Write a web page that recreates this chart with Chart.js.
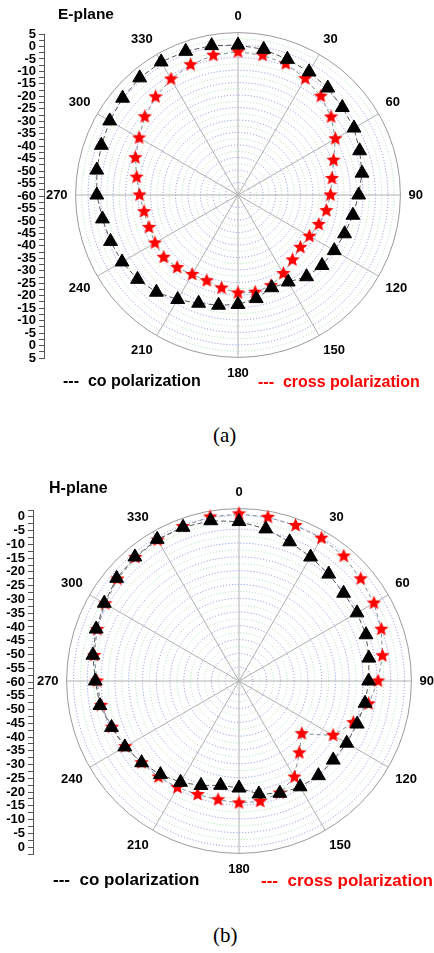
<!DOCTYPE html>
<html>
<head>
<meta charset="utf-8">
<script src="https://cdn.jsdelivr.net/npm/chart.js@4.4.0/dist/chart.umd.min.js"></script>
<style>
body { margin: 0; background: #fff; }
#page { position: relative; width: 434px; height: 953px; overflow: hidden; background: #fff; font-family: "Liberation Sans", Arial, sans-serif; }
canvas { position: absolute; }
.txt { position: absolute; font-weight: bold; white-space: pre; line-height: 1; color: #000; }
.red { color: #f00; }
.cap { font-family: "Liberation Serif", "Times New Roman", serif; font-weight: normal; font-size: 21px; }
</style>
</head>
<body>
<div id="page">
	<canvas id="E_axis" width="60" height="352" style="left:0px;top:20px"></canvas>
	<canvas id="E_polar" width="440" height="372" style="left:18px;top:10px"></canvas>
	<div class="txt" style="left:58px;top:6px;font-size:15.5px">E-plane</div>
	<div class="txt" style="left:63px;top:373px;font-size:16px">---  co polarization</div>
	<div class="txt red" style="left:258px;top:374px;font-size:16px">---  cross polarization</div>
	<div class="txt cap" style="left:213px;top:425px">(a)</div>

	<canvas id="H_axis" width="60" height="384" style="left:0px;top:490px"></canvas>
	<canvas id="H_polar" width="454" height="392" style="left:12px;top:486px"></canvas>
	<div class="txt" style="left:49px;top:480px;font-size:16px">H-plane</div>
	<div class="txt" style="left:53px;top:871px;font-size:17px">---  co polarization</div>
	<div class="txt red" style="left:261px;top:872px;font-size:17px">---  cross polarization</div>
	<div class="txt cap" style="left:213px;top:925px">(b)</div>
</div>
<script>
// angles, degrees (0 on top, clockwise)
let angles = ['0','10','20','30','40','50','60','70','80','90','100','110','120','130','140','150','160','170',
	'180','190','200','210','220','230','240','250','260','270','280','290','300','310','320','330','340','350'];

// E-plane [dB]
let ePlaneCo = [0, -0.8, -2.2, -3.1, -4.1, -5.5, -6.4, -8.2, -9.6, -11.7, -13.3, -14.6, -15.5, -16.1, -17.3, -19.8, -20.5, -17.9,
	-16.2, -15.2, -13.9, -11.7, -9.2, -7.5, -6.4, -5.7, -4.9, -3.5, -2.6, -1.8, -0.7, 0.3, 1.2, 1.5, 1.2, 0.7];
let ePlaneCross = [-2.7, -3.2, -4.1, -6.2, -8.4, -11.4, -15, -19.3, -21.8, -23, -24.1, -25.6, -27, -27.4, -26.1, -23.7, -21.4, -20.5,
	-20.8, -22.2, -23.5, -23.3, -22.1, -21.2, -21.6, -22.1, -21.8, -20.6, -18.8, -16.3, -14.3, -11.3, -8.7, -6.4, -4.5, -3.2];

// H-plane [dB]
let hPlaneCo = [-2.2, -4, -6.3, -8.1, -9.4, -10.5, -10.6, -11, -12.2, -13, -13.6, -14.4, -14.9, -15.4, -15.2, -15.7, -16.7, -18.4,
	-21.2, -21.6, -19.7, -17.6, -15.7, -13.9, -12.2, -10.8, -8.8, -7.9, -6.2, -4.9, -3.6, -2.1, -1.3, -0.7, -0.7, -1];
let hPlaneCross = [0.6, 0.3, 0, -0.2, -0.9, -2.4, -3.5, -5.1, -7.2, -9.6, -12.3, -15.9, -20.6, -30.3, -26, -19.8, -16.8, -15.7,
	-15.8, -16.3, -16.2, -15.4, -14.6, -13.9, -12.4, -11, -9.2, -8.5, -6.7, -5.3, -4, -2.5, -1.5, -1, -0.4, 0.4];

let fontFamily = '"Liberation Sans", Arial, sans-serif';

// filled red star used as point style
let makeStar = function(size, color) {
	let c = document.createElement('canvas');
	c.width = size;
	c.height = size;
	let g = c.getContext('2d');
	let R = size / 2, r = R * 0.45;
	g.beginPath();
	for (let k = 0; k < 10; k++) {
		let a = -Math.PI / 2 + k * Math.PI / 5;
		let rr = k % 2 === 0 ? R : r;
		g.lineTo(R + rr * Math.cos(a), R + rr * Math.sin(a));
	}
	g.closePath();
	g.fillStyle = color;
	g.fill();
	return c;
}

let redStar = makeStar(15, '#ff0000');

let makePolar = function(id, coData, crossData, maxDb) {
	return new Chart(document.getElementById(id), {
		type: 'radar',
		data: {
			labels: angles,
			datasets: [{
				label: 'co polarization',
				data: coData,
				fill: false,
				borderColor: '#555555',
				borderWidth: 1,
				borderDash: [5, 3],
				pointStyle: 'triangle',
				pointRadius: 8,
				pointBackgroundColor: '#000000',
				pointBorderColor: '#000000',
				pointBorderWidth: 1
			},
			{
				label: 'cross polarization',
				data: crossData,
				fill: false,
				borderColor: '#8090a0',
				borderWidth: 1,
				borderDash: [4, 3],
				pointStyle: redStar,
				pointRadius: 8
			}]
		},
		options: {
			responsive: false,
			animation: false,
			plugins: {
				legend: { display: false },
				tooltip: { enabled: false }
			},
			scales: {
				r: {
					min: -60,
					max: maxDb,
					ticks: { display: false, stepSize: 2.5 },
					grid: {
						circular: true,
						lineWidth: 1,
						color: function(ctx) {
							if (ctx.tick.value === maxDb) return '#9a9a9a';
							return ctx.tick.value % 5 === 0 ? '#8585e6' : '#a6dca6';
						}
					},
					border: {
						dash: function(ctx) {
							return (ctx.tick && ctx.tick.value === maxDb) ? [] : [1, 2];
						}
					},
					angleLines: {
						display: true,
						lineWidth: 1,
						color: function(ctx) {
							return ctx.index % 3 === 0 ? '#b0b0b0' : 'rgba(0,0,0,0)';
						}
					},
					pointLabels: {
						display: true,
						padding: 8,
						color: '#000000',
						font: { family: fontFamily, size: 13, weight: 'bold' },
						callback: function(label, index) {
							return index % 3 === 0 ? label : '';
						}
					}
				}
			}
		}
	});
}

// left dB axis: runs 'outer -> -60 at centre -> outer'
let makeAxis = function(id, half, axisWidth, padTop, padBottom) {
	return new Chart(document.getElementById(id), {
		type: 'line',
		data: { labels: [], datasets: [] },
		options: {
			responsive: false,
			animation: false,
			layout: { padding: { top: padTop, bottom: padBottom, left: 0, right: 0 } },
			plugins: {
				legend: { display: false },
				tooltip: { enabled: false }
			},
			scales: {
				x: { display: false },
				y: {
					min: -half,
					max: half,
					afterFit: function(scale) { scale.width = axisWidth; },
					grid: { display: true, drawOnChartArea: false, tickLength: 5, color: '#555555' },
					border: { display: true, color: '#555555', width: 1 },
					ticks: {
						stepSize: 2.5,
						autoSkip: false,
						padding: 3,
						color: '#000000',
						font: { family: fontFamily, size: 13, weight: 'bold' },
						callback: function(v) {
							return v % 5 === 0 ? String(Math.abs(v) - 60) : '';
						}
					}
				}
			}
		}
	});
}

let E_axis = makeAxis('E_axis', 65, 44, 14, 14);
let E_polar = makePolar('E_polar', ePlaneCo, ePlaneCross, 5);
let H_axis = makeAxis('H_axis', 62.5, 33, 20, 20);
let H_polar = makePolar('H_polar', hPlaneCo, hPlaneCross, 2.5);
</script>
</body>
</html>
